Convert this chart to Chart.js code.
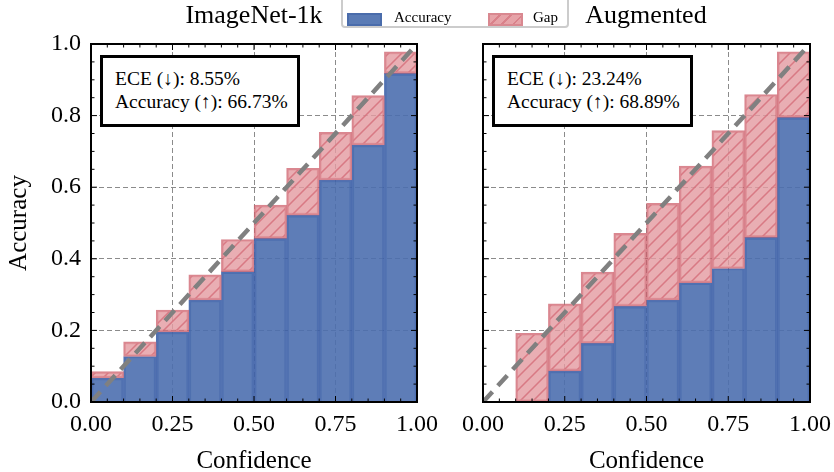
<!DOCTYPE html>
<html>
<head>
<meta charset="utf-8">
<script src="https://cdn.jsdelivr.net/npm/chart.js@4.4.1/dist/chart.umd.min.js"></script>
<style>
  body { margin: 0; background: #fff; }
  #wrap { position: relative; width: 834px; height: 472px; overflow: hidden; font-family: "Liberation Serif", serif; color: #000; }
  canvas { position: absolute; top: 0; }
  #c-left { left: 0; }
  #c-right { left: 440px; }
  .title { position: absolute; top: 0px; font-size: 26px; white-space: nowrap; transform: translateX(-50%); }
  .stats { position: absolute; top: 55px; height: 72px; border: 3px solid #000; background: #fff; box-sizing: border-box;
           font-size: 19.5px; line-height: 23px; padding: 9px 0 0 12px; white-space: nowrap; }
  #legend { position: absolute; left: 341px; top: -4px; width: 228px; height: 32px; border: 2px solid #ccc; border-radius: 4px;
            background: #fff; box-sizing: border-box; font-size: 15px; }
  .patch { position: absolute; top: 15px; width: 35px; height: 13px; box-sizing: border-box; }
  .lbl { position: absolute; top: 11px; }
</style>
</head>
<body>
<div id="wrap">
  <canvas id="c-left" width="440" height="472"></canvas>
  <canvas id="c-right" width="394" height="472"></canvas>
  <div class="title" style="left:254px">ImageNet-1k</div>
  <div class="title" style="left:646px">Augmented</div>
  <div id="legend">
    <div class="patch" style="left:4px;background:#5a7bb5;border:2px solid #4a6cab"></div>
    <div class="lbl" style="left:51px">Accuracy</div>
    <div class="patch" style="left:145px;background:repeating-linear-gradient(135deg,#e6a3a8 0 6px,#d9818a 6px 8px);border:2px solid #d98890"></div>
    <div class="lbl" style="left:190px">Gap</div>
  </div>
  <div class="stats" id="stats-left" style="left:100px;width:200px"></div>
  <div class="stats" id="stats-right" style="left:492px;width:201px"></div>
</div>
<script>
const binCenters = [0.05, 0.15, 0.25, 0.35, 0.45, 0.55, 0.65, 0.75, 0.85, 0.95]
const accImageNet = [0.067, 0.127, 0.196, 0.285, 0.364, 0.457, 0.522, 0.620, 0.718, 0.918]
const confImageNet = [0.085, 0.168, 0.257, 0.355, 0.454, 0.550, 0.653, 0.753, 0.856, 0.978]
// first bin of the augmented model is empty
const accAugmented = [null, 0, 0.087, 0.164, 0.268, 0.285, 0.333, 0.373, 0.460, 0.795]
const confAugmented = [null, 0.192, 0.274, 0.363, 0.471, 0.555, 0.659, 0.758, 0.859, 0.978]
const eceText = ['8.55%', '23.24%']
const accText = ['66.73%', '68.89%']
const xTicks = [0, 0.25, 0.5, 0.75, 1]
const yTicks = [0, 0.2, 0.4, 0.6, 0.8, 1]

document.getElementById('stats-left').innerHTML = 'ECE (↓): ' + eceText[0] + '<br>Accuracy (↑): ' + accText[0]
document.getElementById('stats-right').innerHTML = 'ECE (↓): ' + eceText[1] + '<br>Accuracy (↑): ' + accText[1]

// hatch for the gap bars
function makeHatch() {
  const c = document.createElement('canvas')
  c.width = 13; c.height = 13
  const g = c.getContext('2d')
  g.fillStyle = 'rgba(228,156,162,0.82)'
  g.fillRect(0, 0, 13, 13)
  g.strokeStyle = 'rgba(214,112,123,0.85)'
  g.lineWidth = 1.5
  g.beginPath()
  g.moveTo(-2, 15); g.lineTo(15, -2)
  g.moveTo(-2, 2); g.lineTo(2, -2)
  g.moveTo(11, 15); g.lineTo(15, 11)
  g.stroke()
  return g.createPattern(c, 'repeat')
}
const hatch = makeHatch()

// frame + inward minor/major ticks like the matplotlib style
const framePlugin = {
  id: 'frame',
  afterDraw(chart) {
    const { ctx, chartArea: a, scales } = chart
    const x = scales.x, y = scales.y
    ctx.save()
    ctx.strokeStyle = '#000'
    ctx.lineWidth = 1
    ctx.beginPath()
    for (let i = 0; i <= 20; i++) {
      const v = i * 0.05
      const len = (i % 5 === 0) ? 6 : 3.5
      const px = x.getPixelForValue(v)
      ctx.moveTo(px, a.bottom); ctx.lineTo(px, a.bottom - len)
      ctx.moveTo(px, a.top); ctx.lineTo(px, a.top + len)
      const ylen = (i % 4 === 0) ? 6 : 3.5
      const py = y.getPixelForValue(v)
      ctx.moveTo(a.left, py); ctx.lineTo(a.left + ylen, py)
      ctx.moveTo(a.right, py); ctx.lineTo(a.right - ylen, py)
    }
    ctx.stroke()
    ctx.lineWidth = 2
    ctx.strokeRect(a.left, a.top, a.right - a.left, a.bottom - a.top)
    ctx.restore()
  }
}

function makeChart(id, acc, conf, showY, yWidth, padRight) {
  const accData = [], gapData = []
  binCenters.forEach((c, i) => {
    if (acc[i] === null) return
    accData.push({ x: c, y: acc[i] })
    gapData.push({ x: c, y: [acc[i], conf[i]] })
  })
  const tickFont = { family: 'Liberation Serif', size: 24 }
  return new Chart(document.getElementById(id), {
    type: 'bar',
    data: {
      datasets: [
        { type: 'line', data: [{ x: 0, y: 0 }, { x: 1, y: 1 }], borderColor: '#808080', borderWidth: 4.5,
          borderDash: [14, 8], pointRadius: 0, order: 0 },
        { label: 'Gap', data: gapData, backgroundColor: hatch, borderColor: 'rgba(205,95,107,0.75)',
          borderWidth: 2, borderSkipped: false, order: 1 },
        { label: 'Accuracy', data: accData, backgroundColor: 'rgba(76,111,175,0.9)', borderColor: 'rgba(62,98,168,0.9)',
          borderWidth: 2, borderSkipped: 'start', order: 2 },
      ]
    },
    options: {
      responsive: false,
      animation: false,
      grouped: false,
      barPercentage: 1,
      categoryPercentage: 1,
      layout: { padding: { top: 44, right: padRight, left: 0, bottom: 0 } },
      scales: {
        x: {
          type: 'linear', min: 0, max: 1, offset: false,
          afterBuildTicks: s => { s.ticks = xTicks.map(v => ({ value: v })) },
          afterFit: s => { s.height = 70; s.paddingLeft = 0; s.paddingRight = 0 },
          grid: { color: 'rgba(110,110,110,0.8)', lineWidth: 1, drawTicks: false, offset: false },
          border: { display: false, dash: [5, 3] },
          ticks: { padding: 8, color: '#000', font: tickFont, maxRotation: 0,
                   callback: v => v.toFixed(2) },
          title: { display: true, text: 'Confidence', color: '#000', font: { family: 'Liberation Serif', size: 25 },
                   padding: { top: 0, bottom: -4 } }
        },
        y: {
          min: 0, max: 1,
          afterBuildTicks: s => { s.ticks = yTicks.map(v => ({ value: v })) },
          afterFit: s => { s.width = yWidth; s.paddingTop = 0; s.paddingBottom = 0 },
          grid: { color: 'rgba(110,110,110,0.8)', lineWidth: 1, drawTicks: false },
          border: { display: false, dash: [5, 3] },
          ticks: { display: showY, padding: 10, color: '#000', font: tickFont,
                   callback: v => v.toFixed(1) },
          title: { display: showY, text: 'Accuracy', color: '#000', font: { family: 'Liberation Serif', size: 25 },
                   padding: { top: 4, bottom: 4 } }
        }
      },
      plugins: { legend: { display: false }, tooltip: { enabled: false } }
    },
    plugins: [framePlugin]
  })
}

makeChart('c-left', accImageNet, confImageNet, true, 91, 23)
makeChart('c-right', accAugmented, confAugmented, false, 43, 24)
</script>
</body>
</html>
